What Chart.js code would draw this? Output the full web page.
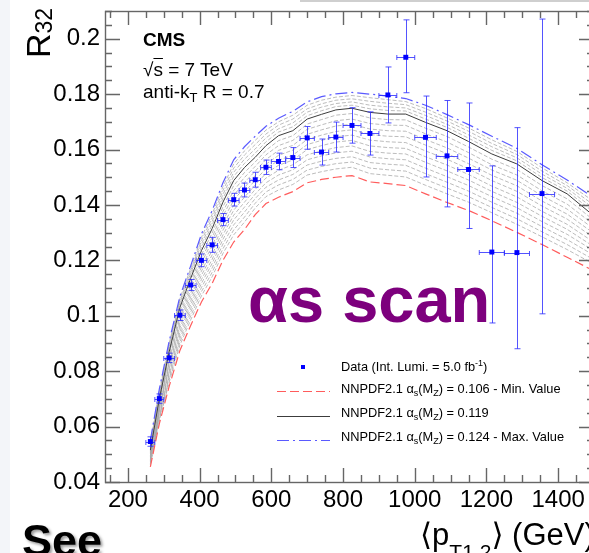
<!DOCTYPE html>
<html><head><meta charset="utf-8">
<script src="https://cdn.jsdelivr.net/npm/chart.js@4/dist/chart.umd.min.js"></script>
<style>
html,body{margin:0;padding:0;background:#fff;}
#wrap{position:relative;width:589px;height:553px;overflow:hidden;background:#fff;font-family:"Liberation Sans",Arial,"DejaVu Sans",sans-serif;}
#strip{position:absolute;left:0;top:0;width:10px;height:553px;background:#f3f5f9;}
#topline{position:absolute;left:300px;top:0;width:289px;height:2px;background:#cfcfcf;}
canvas{position:absolute;left:0;top:0;}
.t{position:absolute;white-space:nowrap;color:#000;}
.sub{position:relative;line-height:0;}
</style></head><body>
<div id="wrap"><div id="strip"></div><div id="topline"></div><canvas id="c" width="600" height="560"></canvas></div>
<script>
// ---- measured data (CMS R32 vs <pT1,2>) ----
const dataX    = [262.5, 287.5, 315, 345, 375, 405, 435, 465, 495, 525, 555, 585, 620, 660, 700, 740, 780, 825, 875, 925, 975, 1030, 1090, 1150, 1215, 1285, 1355];
const dataXErr = [12.5, 12.5, 15, 15, 15, 15, 15, 15, 15, 15, 15, 15, 20, 20, 20, 20, 20, 25, 25, 25, 25, 30, 30, 30, 35, 35, 35];
const dataY    = [0.0546, 0.0701, 0.0848, 0.1002, 0.1111, 0.1200, 0.1256, 0.1347, 0.1419, 0.1454, 0.1491, 0.1536, 0.1557, 0.1571, 0.1642, 0.1591, 0.1645, 0.1687, 0.1658, 0.1797, 0.1933, 0.1644, 0.1577, 0.1528, 0.1230, 0.1228, 0.1441];
const dataErrUp   = [0.0017, 0.0017, 0.0017, 0.0019, 0.0020, 0.0023, 0.0027, 0.0022, 0.0023, 0.0025, 0.0027, 0.0026, 0.0030, 0.0036, 0.0041, 0.0047, 0.0054, 0.0064, 0.0078, 0.0101, 0.0135, 0.0149, 0.0200, 0.0240, 0.0311, 0.0451, 0.0630];
const dataErrDown = [0.0017, 0.0017, 0.0017, 0.0019, 0.0020, 0.0023, 0.0027, 0.0022, 0.0023, 0.0025, 0.0027, 0.0026, 0.0030, 0.0036, 0.0041, 0.0047, 0.0054, 0.0064, 0.0078, 0.0101, 0.0128, 0.0143, 0.0184, 0.0213, 0.0256, 0.0347, 0.0434];

// ---- theory curves (NNPDF2.1 alpha_s scan) ----
const thX = [262.5, 287.5, 315, 345, 375, 405, 435, 465, 495, 525, 555, 585, 620, 660, 700, 740, 780, 825, 875, 925, 975, 1030, 1090, 1150, 1215, 1285, 1355, 1425, 1500];
const thMin     = [0.0455, 0.0610, 0.0745, 0.0875, 0.0965, 0.1050, 0.1117, 0.1200, 0.1266, 0.1311, 0.1365, 0.1405, 0.1428, 0.1448, 0.1480, 0.1492, 0.1500, 0.1506, 0.1483, 0.1477, 0.1470, 0.1440, 0.1409, 0.1380, 0.1343, 0.1301, 0.1257, 0.1211, 0.1162];
const thCentral = [0.0515, 0.0700, 0.0870, 0.1030, 0.1135, 0.1235, 0.1315, 0.1410, 0.1488, 0.1535, 0.1572, 0.1614, 0.1650, 0.1668, 0.1710, 0.1727, 0.1743, 0.1749, 0.1734, 0.1728, 0.1728, 0.1698, 0.1668, 0.1629, 0.1584, 0.1548, 0.1488, 0.1440, 0.1360];
const thMax     = [0.0550, 0.0735, 0.0908, 0.1070, 0.1180, 0.1295, 0.1380, 0.1480, 0.1563, 0.1610, 0.1648, 0.1684, 0.1713, 0.1738, 0.1772, 0.1791, 0.1801, 0.1806, 0.1800, 0.1793, 0.1784, 0.1760, 0.1726, 0.1690, 0.1648, 0.1604, 0.1545, 0.1490, 0.1425];
const scan107 = [0.0462, 0.0621, 0.0760, 0.0894, 0.0985, 0.1072, 0.1141, 0.1225, 0.1292, 0.1338, 0.1389, 0.1430, 0.1454, 0.1474, 0.1508, 0.1520, 0.1530, 0.1536, 0.1513, 0.1507, 0.1501, 0.1471, 0.1440, 0.1410, 0.1372, 0.1330, 0.1285, 0.1239, 0.1186];
const scan108 = [0.0467, 0.0628, 0.0770, 0.0906, 0.0999, 0.1087, 0.1157, 0.1242, 0.1310, 0.1356, 0.1406, 0.1447, 0.1472, 0.1492, 0.1526, 0.1539, 0.1549, 0.1555, 0.1533, 0.1527, 0.1522, 0.1492, 0.1461, 0.1430, 0.1391, 0.1350, 0.1303, 0.1257, 0.1202];
const scan109 = [0.0472, 0.0635, 0.0780, 0.0918, 0.1013, 0.1102, 0.1173, 0.1259, 0.1328, 0.1374, 0.1423, 0.1464, 0.1490, 0.1510, 0.1544, 0.1558, 0.1568, 0.1574, 0.1553, 0.1547, 0.1543, 0.1513, 0.1482, 0.1450, 0.1410, 0.1370, 0.1322, 0.1275, 0.1218];
const scan110 = [0.0477, 0.0642, 0.0790, 0.0931, 0.1026, 0.1117, 0.1189, 0.1276, 0.1346, 0.1392, 0.1439, 0.1480, 0.1508, 0.1527, 0.1563, 0.1577, 0.1588, 0.1594, 0.1573, 0.1567, 0.1563, 0.1533, 0.1502, 0.1470, 0.1430, 0.1390, 0.1340, 0.1294, 0.1234];
const scan111 = [0.0481, 0.0650, 0.0800, 0.0943, 0.1040, 0.1131, 0.1204, 0.1292, 0.1363, 0.1410, 0.1456, 0.1497, 0.1525, 0.1545, 0.1581, 0.1595, 0.1607, 0.1613, 0.1593, 0.1587, 0.1584, 0.1554, 0.1523, 0.1490, 0.1449, 0.1409, 0.1359, 0.1312, 0.1249];
const scan112 = [0.0486, 0.0657, 0.0810, 0.0956, 0.1053, 0.1146, 0.1220, 0.1309, 0.1381, 0.1428, 0.1472, 0.1514, 0.1543, 0.1562, 0.1600, 0.1614, 0.1627, 0.1633, 0.1613, 0.1607, 0.1604, 0.1574, 0.1544, 0.1510, 0.1468, 0.1429, 0.1377, 0.1330, 0.1265];
const scan113 = [0.0491, 0.0664, 0.0820, 0.0968, 0.1067, 0.1161, 0.1236, 0.1326, 0.1399, 0.1446, 0.1489, 0.1531, 0.1561, 0.1580, 0.1618, 0.1633, 0.1646, 0.1652, 0.1634, 0.1628, 0.1625, 0.1595, 0.1565, 0.1530, 0.1488, 0.1449, 0.1396, 0.1349, 0.1281];
const scan114 = [0.0496, 0.0671, 0.0830, 0.0980, 0.1081, 0.1176, 0.1252, 0.1343, 0.1417, 0.1463, 0.1506, 0.1547, 0.1579, 0.1598, 0.1636, 0.1652, 0.1665, 0.1671, 0.1654, 0.1648, 0.1646, 0.1616, 0.1585, 0.1549, 0.1507, 0.1469, 0.1414, 0.1367, 0.1297];
const scan115 = [0.0501, 0.0678, 0.0840, 0.0993, 0.1094, 0.1191, 0.1268, 0.1360, 0.1435, 0.1481, 0.1522, 0.1564, 0.1597, 0.1615, 0.1655, 0.1671, 0.1685, 0.1691, 0.1674, 0.1668, 0.1666, 0.1636, 0.1606, 0.1569, 0.1526, 0.1489, 0.1433, 0.1385, 0.1313];
const scan116 = [0.0505, 0.0686, 0.0850, 0.1005, 0.1108, 0.1205, 0.1283, 0.1376, 0.1452, 0.1499, 0.1539, 0.1581, 0.1614, 0.1633, 0.1673, 0.1689, 0.1704, 0.1710, 0.1694, 0.1688, 0.1687, 0.1657, 0.1627, 0.1589, 0.1545, 0.1508, 0.1451, 0.1403, 0.1328];
const scan117 = [0.0510, 0.0693, 0.0860, 0.1018, 0.1121, 0.1220, 0.1299, 0.1393, 0.1470, 0.1517, 0.1555, 0.1597, 0.1632, 0.1650, 0.1692, 0.1708, 0.1724, 0.1730, 0.1714, 0.1708, 0.1707, 0.1677, 0.1647, 0.1609, 0.1565, 0.1528, 0.1470, 0.1422, 0.1344];
const scan120 = [0.0522, 0.0707, 0.0878, 0.1038, 0.1144, 0.1247, 0.1328, 0.1424, 0.1503, 0.1550, 0.1587, 0.1628, 0.1663, 0.1682, 0.1722, 0.1740, 0.1755, 0.1760, 0.1747, 0.1741, 0.1739, 0.1710, 0.1680, 0.1641, 0.1597, 0.1559, 0.1499, 0.1450, 0.1373];
const scan121 = [0.0529, 0.0714, 0.0885, 0.1046, 0.1153, 0.1259, 0.1341, 0.1438, 0.1518, 0.1565, 0.1602, 0.1642, 0.1675, 0.1696, 0.1735, 0.1753, 0.1766, 0.1772, 0.1760, 0.1754, 0.1750, 0.1723, 0.1691, 0.1653, 0.1610, 0.1570, 0.1511, 0.1460, 0.1386];
const scan122 = [0.0536, 0.0721, 0.0893, 0.1054, 0.1162, 0.1271, 0.1354, 0.1452, 0.1533, 0.1580, 0.1618, 0.1656, 0.1688, 0.1710, 0.1747, 0.1765, 0.1778, 0.1783, 0.1774, 0.1767, 0.1762, 0.1735, 0.1703, 0.1666, 0.1622, 0.1582, 0.1522, 0.1470, 0.1399];
const scan123 = [0.0543, 0.0728, 0.0900, 0.1062, 0.1171, 0.1283, 0.1367, 0.1466, 0.1548, 0.1595, 0.1633, 0.1670, 0.1700, 0.1724, 0.1760, 0.1778, 0.1789, 0.1795, 0.1787, 0.1780, 0.1773, 0.1748, 0.1714, 0.1678, 0.1635, 0.1593, 0.1534, 0.1480, 0.1412];
const scanCurves = [scan107, scan108, scan109, scan110, scan111, scan112, scan113, scan114, scan115, scan116, scan117, scan120, scan121, scan122, scan123];

// axis ranges / tick labels
const xRange = [136, 1500];
const yRange = [0.04, 0.21];
const xTickValues = [200, 400, 600, 800, 1000, 1200, 1400];
const yTickValues = [0.04, 0.06, 0.08, 0.1, 0.12, 0.14, 0.16, 0.18, 0.2];

const FONT = '"Liberation Sans", Arial, sans-serif';
const toPts = ys => ys.map((y, i) => ({x: thX[i], y}));

const datasets = [
  {label: 'Data', data: dataX.map((x, i) => ({x, y: dataY[i]})), showLine: false,
   pointStyle: 'rect', pointRadius: 3.5, pointBorderWidth: 0, pointBackgroundColor: '#0000ff', pointBorderColor: '#0000ff'},
  {label: 'max', data: toPts(thMax), borderColor: '#5a5aff', borderDash: [12, 4, 2, 4], borderWidth: 1.2},
  {label: 'central', data: toPts(thCentral), borderColor: '#3c3c3c', borderWidth: 1},
  {label: 'min', data: toPts(thMin), borderColor: '#ff5c5c', borderDash: [9, 4], borderWidth: 1.2},
  ...scanCurves.map(c => ({label: 'scan', data: toPts(c), borderColor: 'rgba(160,160,160,0.7)', borderDash: [4, 2], borderWidth: 1}))
];

const errPlugin = {
  id: 'errbars',
  beforeDatasetDraw(chart, args) {
    if (args.index !== 0) return;
    const {ctx, chartArea: a} = chart;
    const xs = chart.scales.x, ys = chart.scales.y;
    ctx.save();
    ctx.beginPath(); ctx.rect(a.left, a.top, a.right - a.left, a.bottom - a.top); ctx.clip();
    ctx.strokeStyle = 'rgba(40,40,255,0.8)'; ctx.lineWidth = 1;
    dataX.forEach((xv, i) => {
      const px = Math.round(xs.getPixelForValue(xv)) + 0.5;
      const py = Math.round(ys.getPixelForValue(dataY[i])) + 0.5;
      const x0 = xs.getPixelForValue(xv - dataXErr[i]), x1 = xs.getPixelForValue(xv + dataXErr[i]);
      const y0 = ys.getPixelForValue(dataY[i] + dataErrUp[i]), y1 = ys.getPixelForValue(dataY[i] - dataErrDown[i]);
      ctx.beginPath();
      ctx.moveTo(px, y0); ctx.lineTo(px, y1);
      ctx.moveTo(x0, py); ctx.lineTo(x1, py);
      ctx.moveTo(px - 3, y0); ctx.lineTo(px + 3, y0);
      ctx.moveTo(px - 3, y1); ctx.lineTo(px + 3, y1);
      ctx.moveTo(x0, py - 2.5); ctx.lineTo(x0, py + 2.5);
      ctx.moveTo(x1, py - 2.5); ctx.lineTo(x1, py + 2.5);
      ctx.stroke();
    });
    ctx.restore();
  }
};

const framePlugin = {
  id: 'frame',
  afterDraw(chart) {
    const {ctx, chartArea: a} = chart;
    const xs = chart.scales.x, ys = chart.scales.y;
    ctx.save();
    ctx.strokeStyle = '#666'; ctx.lineWidth = 1.4;
    ctx.strokeRect(a.left + 0.5, a.top + 0.5, a.right - a.left, a.bottom - a.top);
    ctx.beginPath();
    for (let k = 3; k <= 30; k++) {
      const v = k * 50; if (v < xRange[0] || v > xRange[1]) continue;
      const px = Math.round(xs.getPixelForValue(v)) + 0.5;
      const len = (v % 200 === 0) ? 14 : 7;
      ctx.moveTo(px, a.bottom); ctx.lineTo(px, a.bottom - len);
      ctx.moveTo(px, a.top); ctx.lineTo(px, a.top + len);
    }
    for (let k = 8; k <= 42; k++) {
      const v = k * 0.005;
      const py = Math.round(ys.getPixelForValue(v)) + 0.5;
      const len = (k % 4 === 0) ? 15 : 7;
      ctx.moveTo(a.left, py); ctx.lineTo(a.left + len, py);
      ctx.moveTo(a.right, py); ctx.lineTo(a.right - len, py);
    }
    ctx.stroke();
    // legend symbols
    ctx.lineWidth = 1.2;
    ctx.strokeStyle = '#ff5c5c'; ctx.setLineDash([9, 4]);
    ctx.beginPath(); ctx.moveTo(277, 391.5); ctx.lineTo(330, 391.5); ctx.stroke();
    ctx.strokeStyle = '#3c3c3c'; ctx.setLineDash([]); ctx.lineWidth = 1;
    ctx.beginPath(); ctx.moveTo(277, 416.5); ctx.lineTo(330, 416.5); ctx.stroke();
    ctx.strokeStyle = '#5a5aff'; ctx.setLineDash([12, 4, 2, 4]); ctx.lineWidth = 1.2;
    ctx.beginPath(); ctx.moveTo(277, 440.5); ctx.lineTo(330, 440.5); ctx.stroke();
    ctx.setLineDash([]);
    ctx.fillStyle = '#0000ff'; ctx.fillRect(301, 365, 4, 4);
    ctx.restore();
  }
};

const zeroPad = s => { s.paddingTop = 0; s.paddingBottom = 0; s.paddingLeft = 0; s.paddingRight = 0; };

new Chart(document.getElementById('c'), {
  type: 'line',
  data: {datasets},
  options: {
    responsive: false, animation: false, devicePixelRatio: 1,
    layout: {padding: {left: 0, right: 6, top: 11, bottom: 0}},
    plugins: {legend: {display: false}, tooltip: {enabled: false}},
    elements: {line: {tension: 0, fill: false}, point: {radius: 0}},
    scales: {
      x: {type: 'linear', min: xRange[0], max: xRange[1],
          grid: {display: false, drawTicks: false}, border: {display: false},
          afterBuildTicks: s => { s.ticks = xTickValues.map(v => ({value: v})); },
          ticks: {autoSkip: false, maxRotation: 0, minRotation: 0,
                  color: '#000', padding: 4, font: {family: FONT, size: 24}, callback: v => String(v)},
          afterFit: s => { s.height = 78; zeroPad(s); }},
      y: {type: 'linear', min: yRange[0], max: yRange[1],
          grid: {display: false, drawTicks: false}, border: {display: false},
          afterBuildTicks: s => { s.ticks = yTickValues.map(v => ({value: v})); },
          ticks: {autoSkip: false, color: '#000', padding: 5,
                  font: {family: FONT, size: 24}, callback: v => String(+(+v).toFixed(2))},
          afterFit: s => { s.width = 105; zeroPad(s); }}
    }
  },
  plugins: [errPlugin, framePlugin]
});

// ---- text annotations ----
const wrap = document.getElementById('wrap');
function T(html, left, base, size, extra) {
  const d = document.createElement('div');
  d.className = 't'; d.innerHTML = html;
  d.style.left = left + 'px'; d.style.top = (base - 0.8465 * size) + 'px';
  d.style.fontSize = size + 'px'; d.style.lineHeight = size + 'px';
  Object.assign(d.style, extra || {});
  wrap.appendChild(d); return d;
}
T('CMS', 143, 46.5, 19, {fontWeight: 'bold'});
T('√<span style="text-decoration:overline">s</span> = 7 TeV', 143, 76.5, 19);
T('anti-k<span class="sub" style="font-size:13px;top:4px">T</span> R = 0.7', 143, 98.3, 19);
T('Data (Int. Lumi. = 5.0 fb<span class="sub" style="font-size:9px;top:-5px">-1</span>)', 341, 371.7, 12.8);
const sub = s => '<span class="sub" style="font-size:9px;top:3px">' + s + '</span>';
T('NNPDF2.1 α' + sub('s') + '(M' + sub('Z') + ') = 0.106 - Min. Value', 341, 394, 12.8);
T('NNPDF2.1 α' + sub('s') + '(M' + sub('Z') + ') = 0.119', 341, 418, 12.8);
T('NNPDF2.1 α' + sub('s') + '(M' + sub('Z') + ') = 0.124 - Max. Value', 341, 442, 12.8);
T('αs scan', 248, 322, 65, {fontWeight: 'bold', color: '#7d007d'});
T('See', 22, 556, 45, {fontWeight: 'bold', textShadow: '2px 2px 3px #999'});
T('⟨p<span class="sub" style="font-size:21px;top:14px">T1,2</span>⟩ (GeV)', 420, 545, 31);
const yt = T('R<span class="sub" style="font-size:23px;top:2px">32</span>', 50 - 0.8465 * 34, 0, 34);
yt.style.top = '58px'; yt.style.transformOrigin = '0 0'; yt.style.transform = 'rotate(-90deg)';
</script>
</body></html>
